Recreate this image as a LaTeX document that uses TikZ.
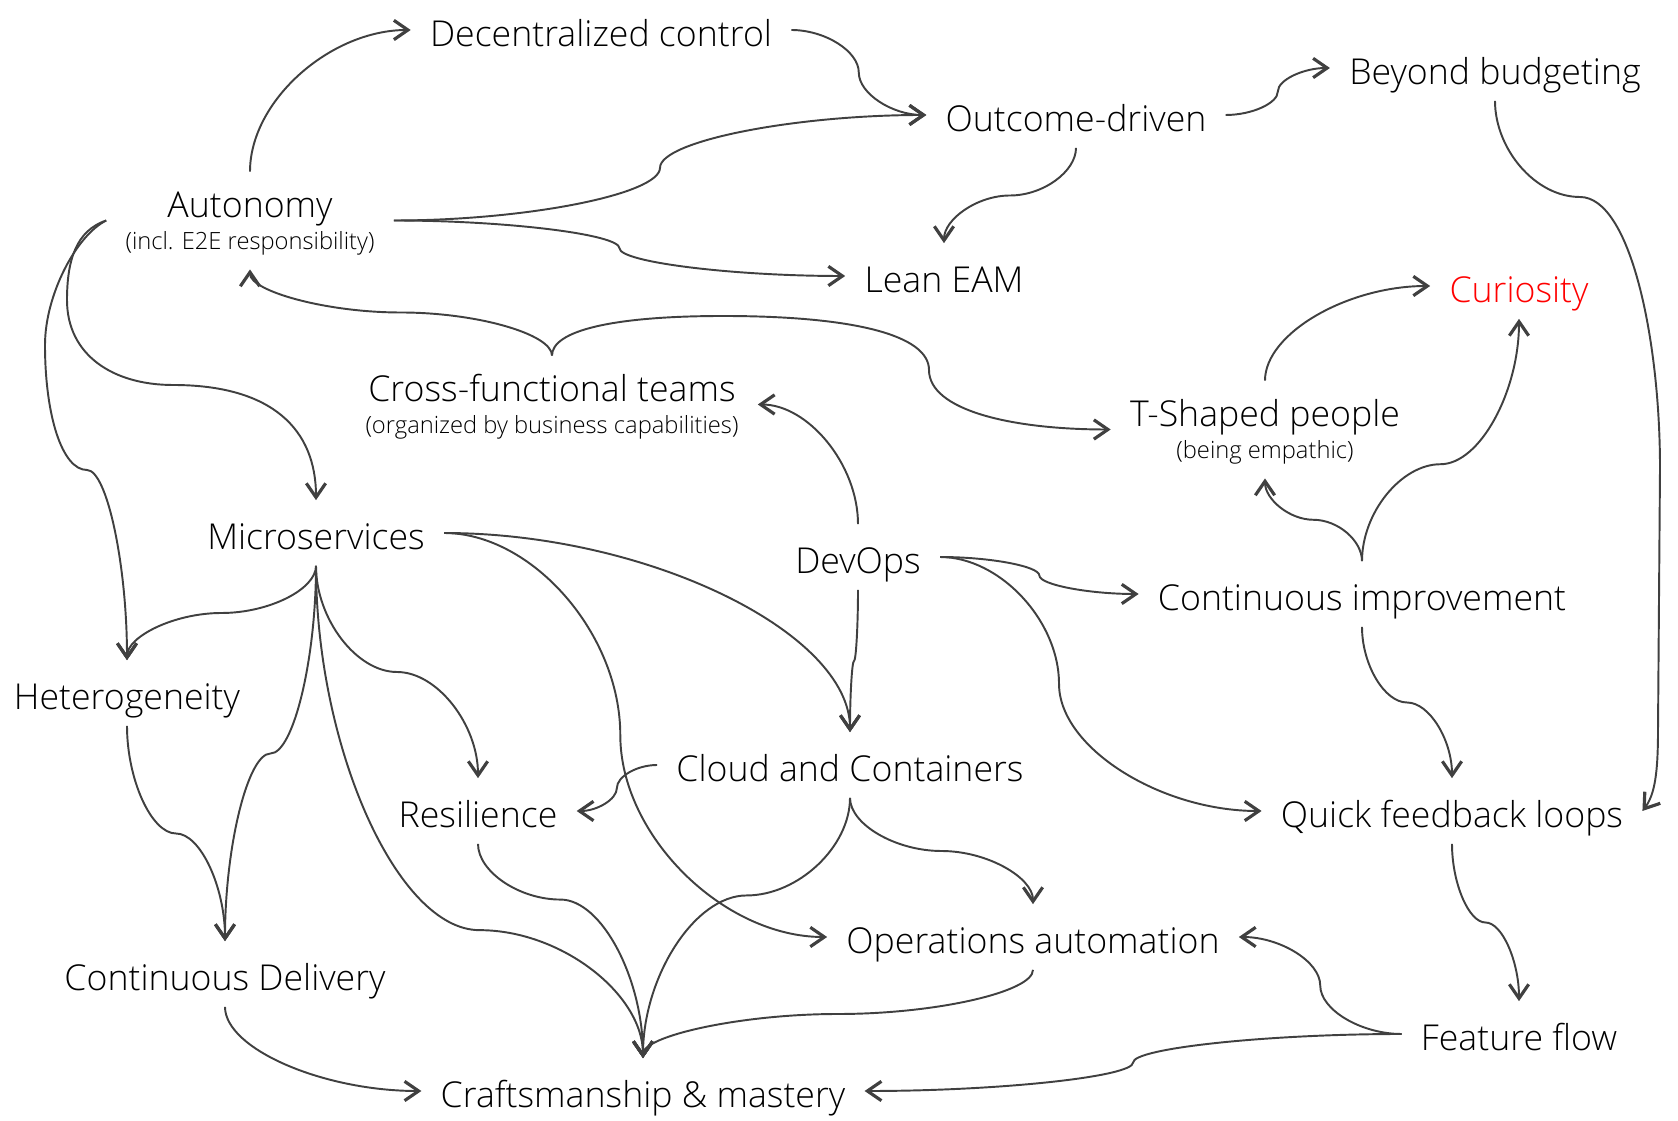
\documentclass[tikz,border=0pt]{standalone}
\usepackage{fontspec}
\setmainfont{Open Sans}[UprightFont={* Light}]
\usepackage{tikz}
\usetikzlibrary{calc,arrows.meta}
\definecolor{linkgray}{HTML}{404040}
\newcommand{\colorTikzLink}{linkgray}
\newcommand{\colorHRed}{\color{red}}
\newcommand{\subline}[1]{{\fontsize{13.5}{15}\selectfont #1}}
\renewcommand{\arraystretch}{0.8}
\tikzset{
    idea/.style={font=\fontsize{20.3}{23}\selectfont, text height=28pt, text depth=9pt, inner xsep=10.8pt, inner ysep=0pt},
    idea2/.style={font=\fontsize{20.3}{23}\selectfont, text height=25.8pt, text depth=29.5pt, inner xsep=10.8pt, inner ysep=0pt},
    link/.style={draw=\colorTikzLink, line width=1.1pt, -{Straight Barb[length=8pt,width=11pt,line width'=1.8pt]}},
    hh/.style={to path={let \p1=(\tikztostart), \p2=(\tikztotarget) in
        .. controls ({\x1+#1*(\x2-\x1)/2},\y1) and ({\x1+#1*(\x2-\x1)},{(3*\y1+\y2)/4})
        .. ({\x1+#1*(\x2-\x1)},{(\y1+\y2)/2})
        .. controls ({\x1+#1*(\x2-\x1)},{(\y1+3*\y2)/4}) and ({\x1+(1+#1)*(\x2-\x1)/2},\y2)
        .. (\tikztotarget)}},
    hh/.default=0.5,
    vv/.style={to path={let \p1=(\tikztostart), \p2=(\tikztotarget) in
        .. controls (\x1,{\y1+#1*(\y2-\y1)/2}) and ({(3*\x1+\x2)/4},{\y1+#1*(\y2-\y1)})
        .. ({(\x1+\x2)/2},{\y1+#1*(\y2-\y1)})
        .. controls ({(\x1+3*\x2)/4},{\y1+#1*(\y2-\y1)}) and (\x2,{\y1+(1+#1)*(\y2-\y1)/2})
        .. (\tikztotarget)}},
    vv/.default=0.5,
    hv/.style={to path={let \p1=(\tikztostart), \p2=(\tikztotarget) in
        .. controls ({(\x1+\x2)/2},\y1) and (\x2,{(\y1+\y2)/2}) .. (\tikztotarget)}},
    vh/.style={to path={let \p1=(\tikztostart), \p2=(\tikztotarget) in
        .. controls (\x1,{(\y1+\y2)/2}) and ({(\x1+\x2)/2},\y2) .. (\tikztotarget)}}
}
\begin{document}
\begin{tikzpicture}[x=0.02cm, y=0.02cm]
    \useasboundingbox (0,0) rectangle (1678,1120);
    \node[idea] (DC) at (601, 1090) {Decentralized control};
    \node[idea] (OD) at (1076, 1005) {Outcome-driven};
    \node[idea] (BB) at (1495, 1052) {Beyond budgeting};
    \node[idea2] (AU) at (250, 899.5) {\begin{tabular}[t]{@{}c@{}}Autonomy\\ \subline{(incl. E2E responsibility)}\end{tabular}};
    \node[idea] (LE) at (944, 844) {Lean EAM};
    \node[idea] (CU) at (1519, 834) {\colorHRed{}Curiosity};
    \node[idea2] (CFT) at (552, 715.5) {\begin{tabular}[t]{@{}c@{}}Cross-functional teams\\ \subline{(organized by business capabilities)}\end{tabular}};
    \node[idea2] (TSP) at (1265, 690.5) {\begin{tabular}[t]{@{}c@{}}T-Shaped people\\ \subline{(being empathic)}\end{tabular}};
    \node[idea] (MS) at (316, 587) {Microservices};
    \node[idea] (DO) at (858, 563) {DevOps};
    \node[idea] (CI) at (1362, 526) {Continuous improvement};
    \node[idea] (HE) at (127, 427) {Heterogeneity};
    \node[idea] (CC) at (850, 355) {Cloud and Containers};
    \node[idea] (RE) at (478, 309) {Resilience};
    \node[idea] (QFL) at (1452, 309) {Quick feedback loops};
    \node[idea] (OA) at (1033, 183) {Operations automation};
    \node[idea] (CD) at (225, 146) {Continuous Delivery};
    \node[idea] (FF) at (1519, 86) {Feature flow};
    \node[idea] (CM) at (643, 29) {Craftsmanship \& mastery};

    \draw[link] (AU.north) to[vh] (DC.west);
    \draw[link] (DC.east) to[hh] (OD.west);
    \draw[link] (AU.east) to[hh] (OD.west);
    \draw[link] (AU.east) to[hh] (LE.west);
    \draw[link] (OD.east) to[hh] (BB.west);
    \draw[link] (OD.south) to[vv] (LE.north);
    \draw[link] (BB.south) .. controls +(0,-48) and +(-45,0) .. (1580,923) .. controls +(50,0) and +(0,130) .. (1660,652) -- (1658,390) .. controls +(0,-45) and +(12,16) .. (QFL.east);
    \draw[link] (AU.west) .. controls +(-30,-15) and +(0,50) .. (45,775) .. controls +(0,-70) and +(-25,0) .. (87,650) .. controls +(20,0) and +(0,95) .. (HE.north);
    \draw[link] (AU.west) .. controls +(-30,-10) and +(0,40) .. (67,820) .. controls +(0,-55) and +(-60,0) .. (173,735) .. controls +(100,0) and +(0,70) .. (MS.north);
    \draw[link] (CFT.north) to[vv] (AU.south);
    \draw[link] (CFT.north) .. controls +(0,25) and +(-110,0) .. (723,804) .. controls +(130,0) and +(0,35) .. (929,750) .. controls +(0,-40) and +(-100,0) .. (TSP.west);
    \draw[link] (TSP.north) to[vh] (CU.west);
    \draw[link] (CI.north) to[vv] (TSP.south);
    \draw[link] (CI.north) to[vv=0.4] (CU.south);
    \draw[link] (DO.north) to[vh] (CFT.east);
    \draw[link] (DO.south) to[vv] (CC.north);
    \draw[link] (DO.east) to[hh] (CI.west);
    \draw[link] (DO.east) to[hh=0.37] (QFL.west);
    \draw[link] (CI.south) to[vv] (QFL.north);
    \draw[link] (QFL.south) to[vv] (FF.north);
    \draw[link] (FF.west) to[hh] (OA.east);
    \draw[link] (FF.west) to[hh] (CM.east);
    \draw[link] (OA.south) to[vv] (CM.north);
    \draw[link] (CC.south) to[vv=0.375] (CM.north);
    \draw[link] (CC.south) to[vv] (OA.north);
    \draw[link] (CC.west) to[hh] (RE.east);
    \draw[link] (MS.east) to[hv] (CC.north);
    \draw[link] (MS.east) to[hh=0.46] (OA.west);
    \draw[link] (MS.south) to[vv] (HE.north);
    \draw[link] (MS.south) to[vv] (CD.north);
    \draw[link] (MS.south) to[vv] (RE.north);
    \draw[link] (MS.south) to[vv=0.74] (CM.north);
    \draw[link] (HE.south) to[vv] (CD.north);
    \draw[link] (CD.south) to[vh] (CM.west);
    \draw[link] (RE.south) to[vv=0.26] (CM.north);
\end{tikzpicture}
\end{document}
